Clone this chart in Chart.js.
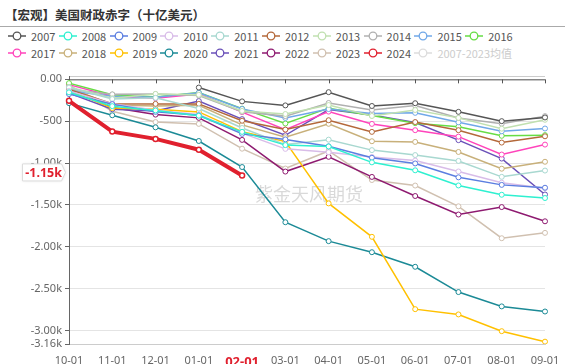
<!DOCTYPE html>
<html>
<head>
<meta charset="utf-8">
<script src="https://cdn.jsdelivr.net/npm/chart.js@4"></script>
<style>
  body { margin: 0; width: 565px; height: 364px; position: relative; overflow: hidden; background: #fff;
         font-family: "Noto Sans CJK SC", "Noto Sans", sans-serif; }
  #title { position: absolute; left: 5px; top: 6px; font-size: 12.5px; font-weight: bold; color: #333; line-height: 18px; }
  #rule { position: absolute; left: 0; top: 26px; width: 565px; height: 1px; background: #aaa; }
  .item { position: absolute; height: 14px; display: flex; align-items: center; font-size: 11px; color: #555; white-space: nowrap; }
  .item svg { margin-right: 5px; }
  canvas { position: absolute; left: 0; top: 0; }
</style>
</head>
<body>
<div id="title">【宏观】美国财政赤字（十亿美元）</div>
<div id="rule"></div>
<div id="legend"></div>
<canvas id="c" width="565" height="364"></canvas>
<script>
const months = ['10-01', '11-01', '12-01', '01-01', '02-01', '03-01', '04-01', '05-01', '06-01', '07-01', '08-01', '09-01'];
const yTicks = [-3160, -3000, -2500, -2000, -1500, -1000, -500, 0, 40];

// cumulative deficit, billion USD, by fiscal year start
const d2007 = [null, null, null, -98, -263, -311, -153, -318, -285, -388, -499, -455];
const d2008 = [-155, -320, -371, -434, -627, -785, -802, -991, -1086, -1267, -1378, -1417];
const d2009 = [-176, -296, -388, -430, -651, -717, -800, -936, -1004, -1170, -1260, -1294];
const d2010 = [-140, -290, -370, -419, -642, -830, -870, -927, -970, -1100, -1234, -1299];
const d2011 = [-98, -235, -221, -349, -581, -779, -720, -845, -904, -974, -1164, -1089];
const d2012 = [-120, -292, -293, -293, -494, -600, -488, -627, -510, -607, -755, -680];
const d2013 = [-91, -226, -174, -184, -377, -414, -307, -437, -366, -460, -589, -483];
const d2014 = [-122, -179, -176, -194, -386, -439, -282, -365, -313, -462, -530, -439];
const d2015 = [-136, -201, -215, -160, -353, -461, -355, -407, -400, -513, -620, -587];
const d2016 = [-45, -183, -210, -158, -350, -527, -344, -433, -523, -566, -674, -666];
const d2017 = [-63, -202, -225, -176, -391, -600, -385, -532, -607, -684, -898, -779];
const d2018 = [-100, -305, -319, -310, -544, -691, -531, -739, -747, -867, -1067, -984];
const d2019 = [-134, -343, -357, -389, -624, -743, -1481, -1880, -2744, -2807, -3007, -3132];
const d2020 = [-284, -429, -573, -736, -1047, -1706, -1932, -2064, -2238, -2540, -2711, -2772];
const d2021 = [-165, -357, -378, -259, -475, -668, -360, -426, -515, -726, -946, -1375];
const d2022 = [-88, -337, -421, -460, -723, -1101, -925, -1165, -1393, -1614, -1525, -1695];
const d2023 = [-67, -381, -510, -532, -828, -1065, -855, -1202, -1268, -1516, -1897, -1833];
const d2024 = [-257, -624, -711, -840, -1147];

const years = ['2007', '2008', '2009', '2010', '2011', '2012', '2013', '2014', '2015', '2016',
               '2017', '2018', '2019', '2020', '2021', '2022', '2023', '2024'];
const series = [d2007, d2008, d2009, d2010, d2011, d2012, d2013, d2014, d2015, d2016,
                d2017, d2018, d2019, d2020, d2021, d2022, d2023, d2024];
const colors = ['#555555', '#2ef0d0', '#5b7ee0', '#d8bce8', '#a8d8d0', '#b4683a', '#c0e0b0', '#b0b0b0', '#70a8e8', '#66dd44',
                '#ff44bb', '#c8b07a', '#ffc000', '#1b8a96', '#6a50b8', '#8e1a70', '#d0c0b0', '#e0202e'];

const datasets = series.map((d, i) => {
  const latest = years[i] === '2024';
  return {
    label: years[i],
    data: d,
    borderColor: colors[i],
    backgroundColor: colors[i],
    pointBackgroundColor: '#fff',
    pointBorderColor: colors[i],
    borderWidth: latest ? 4 : 1.5,
    pointRadius: 2.5,
    pointBorderWidth: latest ? 1.5 : 1,
    order: latest ? 0 : 1,
  };
});
datasets.push({ label: '2007-2023均值', data: [], hidden: true, borderColor: '#ccc' });

// legend
const legend = document.getElementById('legend');
datasets.forEach((ds, i) => {
  const col = i % 10, row = Math.floor(i / 10);
  const c = ds.hidden ? '#dcdcdc' : ds.borderColor;
  const el = document.createElement('div');
  el.className = 'item';
  el.style.left = (8 + col * 50.8) + 'px';
  el.style.top = (row ? 46 : 28.5) + 'px';
  if (ds.hidden) el.style.color = '#ccc';
  el.innerHTML = `<svg width="18" height="10"><line x1="0" y1="5" x2="18" y2="5" stroke="${c}" stroke-width="1.5"/>` +
    `<circle cx="9" cy="5" r="3.8" fill="#fff" stroke="${c}" stroke-width="1.3"/></svg>${ds.label}`;
  legend.append(el);
});

function fmt(v) {
  if (v === 0) return '0.00';
  if (Math.abs(v) >= 1000) return (v / 1000).toFixed(2) + 'k';
  return String(v);
}

const extras = {
  id: 'extras',
  beforeDatasetsDraw(chart) {
    const { ctx, chartArea } = chart;
    const x = chart.scales.x, y = chart.scales.y;
    const y0 = y.getPixelForValue(0);
    ctx.save();
    // watermark
    ctx.fillStyle = 'rgba(160,160,160,0.4)';
    ctx.font = '18px "Noto Sans CJK SC"';
    ctx.textAlign = 'center';
    ctx.textBaseline = 'middle';
    ctx.fillText('紫金天风期货', (chartArea.left + chartArea.right) / 2 + 2, 194);
    // zero axis with ticks
    ctx.strokeStyle = '#555';
    ctx.lineWidth = 1;
    ctx.beginPath();
    ctx.moveTo(chartArea.left, y0 + 0.5);
    ctx.lineTo(chartArea.right, y0 + 0.5);
    months.forEach((m, i) => {
      const px = Math.round(x.getPixelForValue(i)) + 0.5;
      ctx.moveTo(px, y0);
      ctx.lineTo(px, y0 + 4);
    });
    ctx.stroke();
    ctx.restore();
  },
  afterDraw(chart) {
    const { ctx } = chart;
    const y = chart.scales.y;
    const last = d2024[d2024.length - 1];
    const py = y.getPixelForValue(last) - 3;
    ctx.save();
    ctx.fillStyle = '#fff';
    ctx.strokeStyle = '#ddd';
    ctx.lineWidth = 1;
    ctx.shadowColor = 'rgba(0,0,0,0.12)';
    ctx.shadowBlur = 3;
    ctx.beginPath();
    ctx.moveTo(22.5, py - 8.5);
    ctx.lineTo(61.5, py - 8.5);
    ctx.lineTo(65.5, py);
    ctx.lineTo(61.5, py + 8.5);
    ctx.lineTo(22.5, py + 8.5);
    ctx.closePath();
    ctx.fill();
    ctx.shadowBlur = 0;
    ctx.stroke();
    ctx.fillStyle = '#e0202e';
    ctx.font = 'bold 12.5px "Noto Sans"';
    ctx.textAlign = 'right';
    ctx.textBaseline = 'middle';
    ctx.fillText(fmt(last), 62, py + 1);
    ctx.restore();
  },
};

new Chart(document.getElementById('c'), {
  type: 'line',
  data: { labels: months, datasets },
  options: {
    responsive: false,
    animation: false,
    events: [],
    layout: { padding: { left: 0, top: 76, right: 20, bottom: 0 } },
    elements: { line: { tension: 0 } },
    plugins: { legend: { display: false }, tooltip: { enabled: false } },
    scales: {
      x: {
        offset: false,
        grid: { display: false },
        border: { display: true, color: '#ccc' },
        ticks: {
          padding: 2,
          color: (c) => c.index === 4 ? '#e0202e' : '#666',
          font: (c) => c.index === 4 ? { size: 13, weight: 'bold', family: 'Noto Sans' } : { size: 11, family: 'Noto Sans' },
          maxRotation: 0,
          autoSkip: false,
        },
        afterFit(scale) { scale.height = 20; },
      },
      y: {
        min: -3160,
        max: 40,
        afterBuildTicks(scale) { scale.ticks = yTicks.map(v => ({ value: v })); },
        grid: {
          color: (c) => c.tick.value === 40 ? '#ccc' : '#e4e4e4',
          tickColor: (c) => c.tick.value === 40 ? 'rgba(0,0,0,0)' : '#666',
          tickLength: 4,
        },
        border: { display: true, color: '#666' },
        ticks: {
          padding: 3,
          color: '#666',
          font: { size: 11, family: 'Noto Sans' },
          callback: (v) => v === 40 ? '' : fmt(v),
        },
        afterFit(scale) { scale.width = 69; },
      },
    },
  },
  plugins: [extras],
});
</script>
</body>
</html>
